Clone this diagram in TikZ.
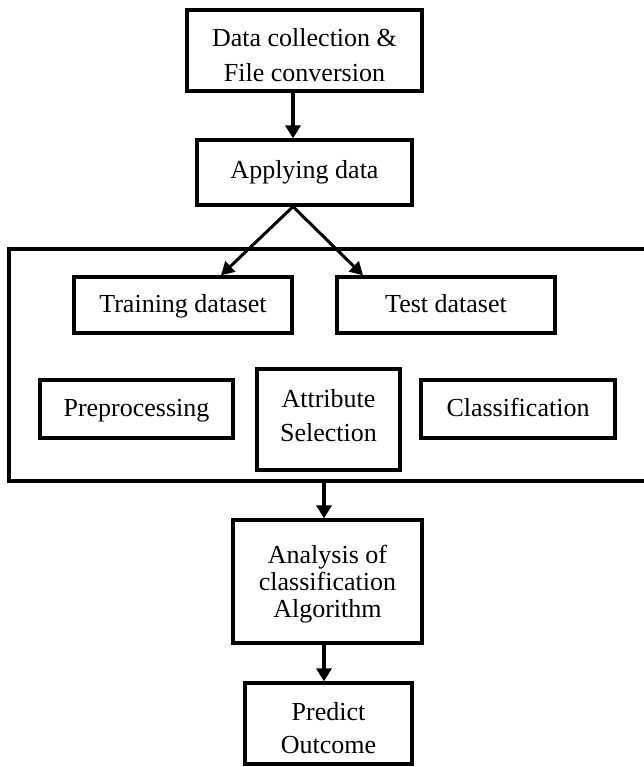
\documentclass[tikz,border=0pt]{standalone}
\usepackage{fontspec}
\setmainfont{Liberation Serif}
\usetikzlibrary{arrows.meta,positioning,calc}
\begin{document}
\begin{tikzpicture}[x=1pt,y=-1pt,
  box/.style={draw, line width=3.3pt, align=center, inner sep=0pt, font=\fontsize{26}{35}\selectfont, text height=18pt, text depth=4pt},
  arr/.style={line width=3.4pt, -{Triangle[length=13pt,width=15pt]}},
  varr/.style={line width=3pt, -{Triangle[length=13pt,width=14pt]}}]
\useasboundingbox (0,0) rectangle (643,767);
\node[box, minimum width=235pt, minimum height=81pt, text height=67pt] (top) at (304.5,50.5) {Data collection \&\\File conversion};
\node[box, minimum width=215pt, minimum height=65pt, text depth=6pt] (apply) at (304.5,172.5) {Applying data};
\node[draw, line width=3.3pt, minimum width=651pt, minimum height=232pt, inner sep=0pt] (group) at (334.5,365) {};
\node[box, minimum width=218pt, minimum height=56pt] (train) at (183,305) {Training dataset};
\node[box, minimum width=218pt, minimum height=56pt] (test) at (446,305) {Test dataset};
\node[box, minimum width=193pt, minimum height=58pt] (pre) at (136.5,409) {Preprocessing};
\node[box, minimum width=143pt, minimum height=101pt, font=\fontsize{26}{34}\selectfont, text height=47pt] (attr) at (328.5,419.5) {Attribute\\Selection};
\node[box, minimum width=194pt, minimum height=58pt] (cls) at (518,409) {Classification};
\node[box, minimum width=189pt, minimum height=123pt, font=\fontsize{26}{27}\selectfont, text height=75pt] (ana) at (327.5,581.5) {Analysis of\\classification\\Algorithm};
\node[box, minimum width=167pt, minimum height=81pt, font=\fontsize{26}{33}\selectfont, text height=63pt] (pred) at (328.5,723.5) {Predict\\Outcome};
\draw[arr] ([xshift=-11.5pt]top.south) -- ([xshift=-11.5pt]apply.north);
\draw[varr] ([xshift=-11.5pt]apply.south) -- ([xshift=38pt]train.north);
\draw[varr] ([xshift=-11.5pt]apply.south) -- ([xshift=-83pt]test.north);
\draw[arr] ([xshift=-3.5pt]ana.north |- group.south) -- ([xshift=-3.5pt]ana.north);
\draw[arr] ([xshift=-3.5pt]ana.south) -- ([xshift=-4.5pt]pred.north);
\end{tikzpicture}
\end{document}
